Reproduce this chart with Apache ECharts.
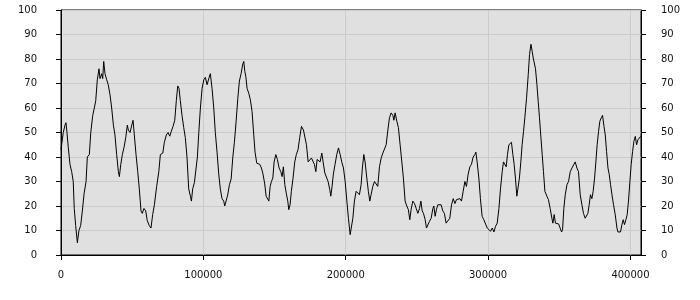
<!DOCTYPE html>
<html><head><meta charset="utf-8">
<script src="https://cdn.jsdelivr.net/npm/echarts@6/dist/echarts.min.js"></script>
<style>html,body{margin:0;padding:0;background:#fff}#c{width:700px;height:300px}</style>
</head><body><div id="c"></div>
<script>
const xTicks = [0, 100000, 200000, 300000, 400000];
const yTicks = [0, 10, 20, 30, 40, 50, 60, 70, 80, 90, 100];
const xValues = [0,1600,2800,3500,4200,5100,6300,7500,8600,9300,10300,11500,12600,13800,15000,16200,17600,18500,19900,20900,22300,23400,24400,25500,26700,27400,28600,29300,30000,30900,32100,33200,34400,35600,36800,37900,39100,40300,41000,42000,43100,44300,45500,46600,47300,48500,49700,50600,51500,52700,53900,55000,56200,57100,58300,59500,60600,62000,63200,64400,65600,67200,
68700,69800,71500,72600,74000,75200,76400,77500,78700,79900,81000,82000,82900,83800,85000,86200,87300,88500,89700,90900,91600,92500,93700,94900,95800,96800,97900,99100,100300,101400,102600,103800,104900,106100,107300,108400,109600,110800,111900,113100,114300,115000,116200,117100,118300,119500,120700,121800,123000,124200,125300,126500,127700,128400,129100,129800,130700,131900,133000,134200,135400,
136300,137500,138400,139600,140800,141900,143100,144100,145000,146000,146900,147800,148800,149700,150900,152000,153200,154400,155300,156200,157200,158300,159300,160000,160900,161800,163000,164200,165300,166500,167700,168900,169600,170300,171500,172400,173600,174800,175900,177100,178000,179000,179900,181100,182000,183200,184100,185300,186400,187600,188800,189500,190400,191300,192500,193700,194900,196100,197200,198400,199600,200800,201900,203100,
203800,205000,206100,207300,208500,209600,210800,211700,212700,213600,214800,215900,216900,217800,219000,220200,221400,222500,223700,224900,226100,227200,228400,229600,230700,231900,233100,233800,234700,235900,237000,238200,239400,240500,241700,242900,244000,245000,245900,247100,248300,249500,250700,251800,252800,253700,254600,255800,256700,257700,258800,260000,261200,261900,262800,263700,264700,265800,267000,268200,269300,270500,271700,
273100,274300,275500,276700,277800,279000,280200,281300,282500,283700,284800,286000,287200,288300,289500,290700,291400,292300,293500,294600,295800,297000,298200,299400,300500,301700,302900,304100,305200,306400,307600,308700,309900,310800,311800,312700,313600,314600,315500,316400,317400,318300,319200,320200,321100,322000,323000,323900,324900,325800,327000,328200,329100,330100,331000,331700,332400,333300,334300,335200,336100,337100,338000,338900,339900,
341300,342400,343600,344800,345500,346400,347300,348300,349500,350600,351600,352300,353200,354200,355400,356500,357700,358900,360000,361200,362400,363500,364700,365900,367000,368200,369100,370100,371000,371900,372900,373800,374800,375700,376600,377600,378500,379500,380400,381400,382300,383200,384200,385100,386000,387000,388100,389300,390500,391200,392100,393000,394000,394900,395800,396800,397700,398600,399600,400500,401500,402400,403400,404300,405200,406200,407100];
const yValues = [43,50,53,54,50,44,37,34,30,19,12,5,10,12,18,25,30,40,41,50,57,60,63,71.5,76,72,74,72,79,74,71.5,69.5,65.5,60,53,49,41,34,32,37,41,44,48,53,51,50,53,55,49,41,34,27,18,17,19,18,14,12,11,16.5,20.5,28,
34,41,41.6,46,49,50,48.5,50.5,52.5,55,63,69,68,63,57,52,48,40,27,24,22,27,29.5,30,40,50,60,68,71.5,72.5,69.5,72,74,68,60,50,42,33,27,23,22,20,20,24.5,28.7,31,40,46,54.5,64,71,74,78,79,75,73,68,66,63.4,58.6,49,
42,37.5,38,37,35.5,33,29,24,23.5,22,28,30,31.4,38,41,39,35.5,34,32,36,28.7,25,22,18.5,20.5,26,31.4,38,41,43,48,52.5,53,51,50.5,45,38,37.5,39.6,39,37,34,39,39,38,41.6,38,33.5,33,30,26.7,24,28,33,37,41,43.7,41,38,35.5,30,22,15,8.3,
9,15,22,26,26,24.6,28.7,35.5,41,38,31.4,26,22,24.6,28,30,29.4,28,36,39.6,41.6,41,45,51,56,58,57,55,58,54.6,52,45,38,31.4,22,20,18.5,14.4,18.5,22,21,19,17,19,22,18,17,14.4,11,11,13.7,15,19,20,15.8,18.5,20.5,21,20.5,18,17,13,12.4,
15,20.5,23,21,22.6,23,23,22,26,30,28,33,36,37,40,41,42,38,31.4,23,15.8,14.4,13.7,11,11,9.7,11,9.4,11.7,13,19,27,34,38,37.5,36,41,45,45.7,46,41,37,31.4,24,24,31.4,38,45,50.5,56,64,73.6,81.8,86,83,80.4,81,76,69.5,62.7,56,48,41,34,26,
24,22.6,19,15,13,16.5,13,12.7,12.7,11,9.4,10.3,19,24.6,28.7,30,34,35.5,36,38,35.5,34,24.6,20.5,17,15,14.4,17,20.5,24.6,23,26,31.4,38,45,50.5,54.6,56,57,52.5,49,42.3,35.5,32.8,28.7,24.6,20.5,16.5,11,9.4,9.4,9.4,12.4,14.4,12.4,14.4,16.5,22,30,37,42.3,46.4,48.4,45,47,47,48.4];
const xMax = 407400;

const data = xValues.map((x, i) => [x, yValues[i]]);
const font = { fontFamily: 'DejaVu Sans', fontSize: 10, color: '#111' };
const gridColor = '#cbcbcb';

const yAxisBase = (pos, margin) => ({
  type: 'value', position: pos, min: yTicks[0], max: yTicks[yTicks.length - 1], interval: 10,
  axisLine: { show: true, lineStyle: { color: '#000', width: 1 } },
  axisTick: { show: true, length: 5, lineStyle: { color: '#000' } },
  axisLabel: Object.assign({ margin: margin, formatter: v => String(v) }, font),
  splitLine: { show: pos === 'left', lineStyle: { color: gridColor, width: 1 } }
});

const chart = echarts.init(document.getElementById('c'), null, { renderer: 'canvas' });
chart.setOption({
  animation: false,
  backgroundColor: '#fff',
  grid: { left: 61, right: 59, top: 10, bottom: 45, show: true, backgroundColor: '#e0e0e0', borderColor: '#000', borderWidth: 1 },
  xAxis: {
    type: 'value', min: xTicks[0], max: xMax, interval: 100000,
    axisLine: { show: true, onZero: false, lineStyle: { color: '#000' } },
    axisTick: { show: true, length: 5, lineStyle: { color: '#000' } },
    axisLabel: Object.assign({ margin: 15, showMaxLabel: false, formatter: v => (xTicks.indexOf(v) >= 0 ? String(v) : '') }, font),
    splitLine: { show: true, lineStyle: { color: gridColor, width: 1 } }
  },
  yAxis: [yAxisBase('left', 24), yAxisBase('right', 20)],
  series: [{
    type: 'line', data: data, showSymbol: false, symbol: 'none',
    lineStyle: { color: '#000', width: 1 }, z: 5
  }]
});
</script></body></html>
